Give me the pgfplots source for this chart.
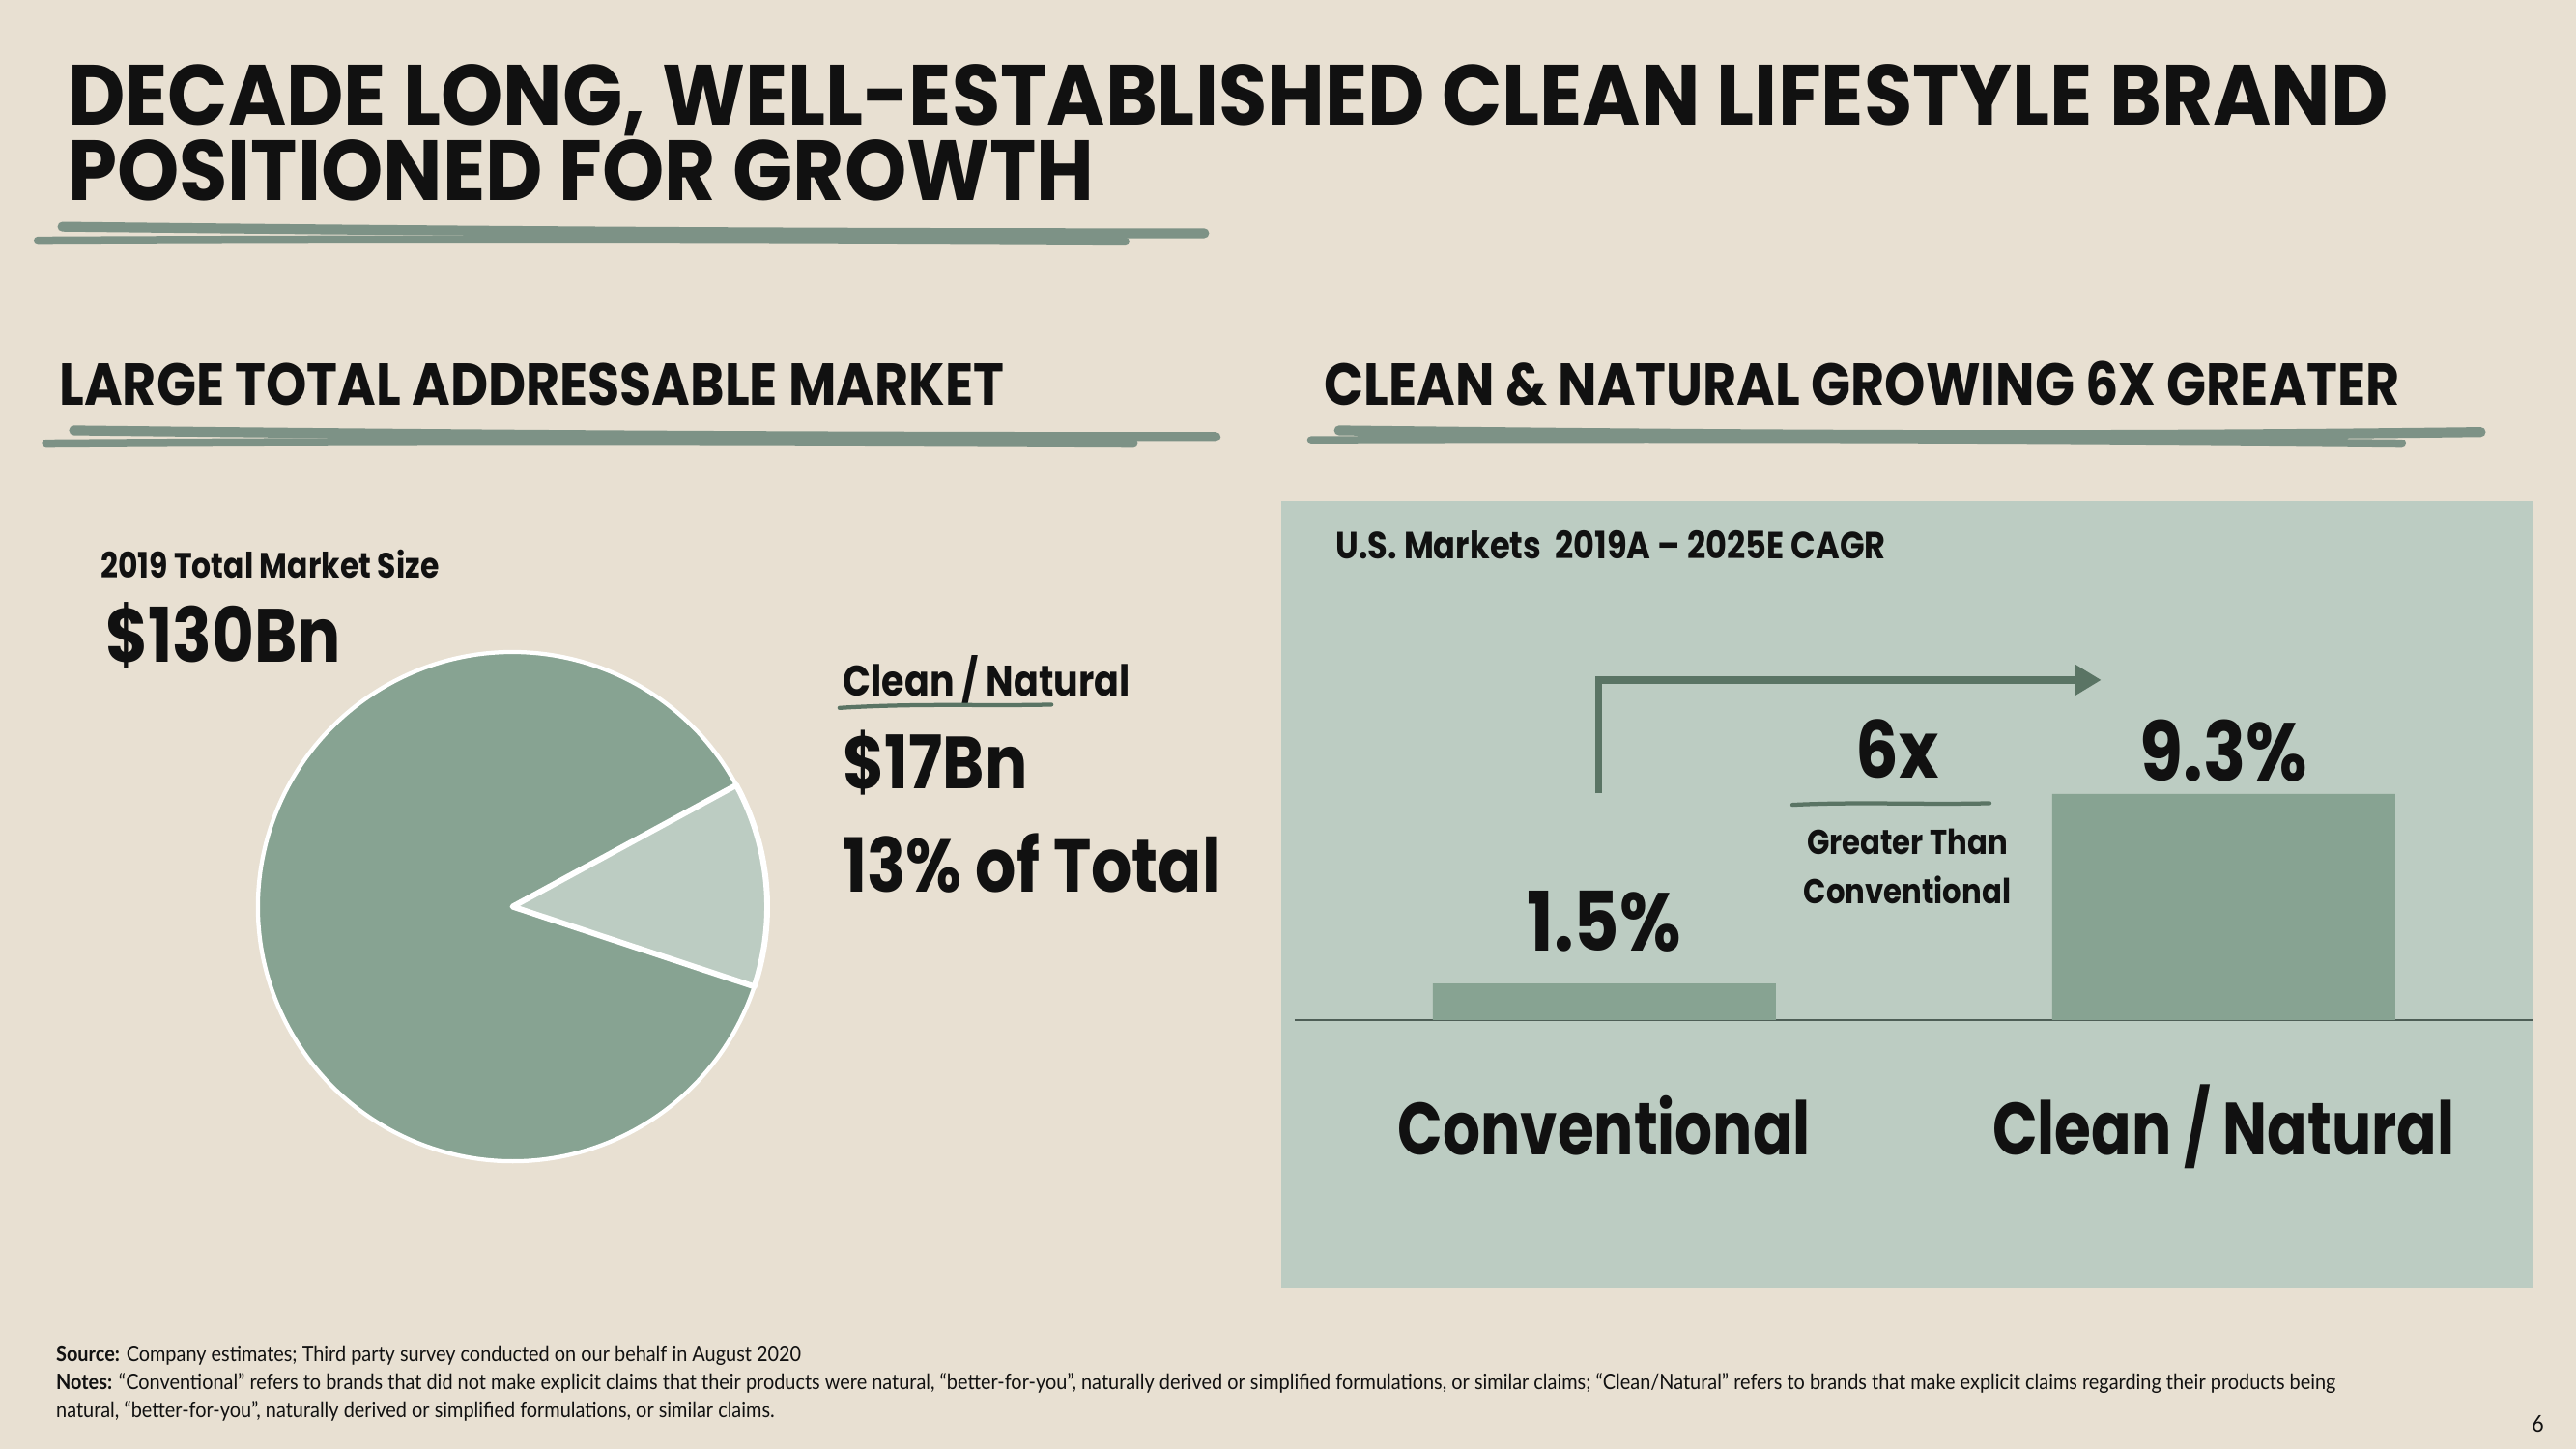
\documentclass[border=0pt]{standalone}
\usepackage{pgfplots}
\pgfplotsset{compat=1.18}
\usepackage{fontspec}
\usetikzlibrary{arrows.meta}
\setmainfont{Lato}
\newfontfamily\titlefont{Poppins}[FakeStretch=0.925]
\newfontfamily\secfont{Poppins}[FakeStretch=0.88]
\newfontfamily\hf{Poppins}[FakeStretch=0.86]
\newfontfamily\catfont{Poppins}[FakeStretch=0.8]
\newfontfamily\nf{Lato}[FakeStretch=0.9]
\definecolor{bgc}{RGB}{232,224,210}
\definecolor{panel}{RGB}{188,204,194}
\definecolor{sage}{RGB}{135,163,146}
\definecolor{brush}{RGB}{125,146,134}
\definecolor{arrowc}{RGB}{90,116,100}
\definecolor{basec}{RGB}{78,94,86}
\definecolor{ink}{RGB}{17,17,17}
\newcommand{\fs}[1]{\fontsize{#1}{#1}\selectfont}
% pie data
\def\cleanpct{13}
\def\startang{-18.3}
\pgfmathsetmacro\endang{\startang+3.6*\cleanpct}
\pgfmathsetmacro\restend{\startang+360}
\begin{document}
\begin{tikzpicture}
\begin{scope}[x=1pt,y=-1pt]
\fill[bgc] (0,0) rectangle (1568,882);
% title
\node[anchor=base west, inner sep=0, text=ink, align=left, font=\titlefont\bfseries\fontsize{52}{46}\selectfont] at (41,122) {DECADE LONG, WELL-ESTABLISHED CLEAN LIFESTYLE BRAND\\POSITIONED FOR GROWTH};
% title brush
\draw[brush, line width=6pt, line cap=round] (38,138) .. controls (300,141) and (500,142) .. (733,142);
\draw[brush, line width=5pt, line cap=round] (23,146.5) .. controls (300,145) and (500,146) .. (685,147);
% section headings
\node[anchor=base west, inner sep=0, text=ink] at (36,247) {\secfont\bfseries\fs{36}LARGE TOTAL ADDRESSABLE MARKET};
\node[anchor=base west, inner sep=0, text=ink] at (806,247) {\secfont\bfseries\fs{36}CLEAN \& NATURAL GROWING 6X GREATER};
\draw[brush, line width=6pt, line cap=round] (45,262) .. controls (300,265) and (500,266) .. (740,266);
\draw[brush, line width=5pt, line cap=round] (28,270) .. controls (300,268) and (500,269) .. (690,270);
\draw[brush, line width=6pt, line cap=round] (815,262) .. controls (1070,265) and (1270,266) .. (1510,263);
\draw[brush, line width=5pt, line cap=round] (798,268) .. controls (1070,267) and (1270,268) .. (1462,270);
% left texts
\node[anchor=base west, inner sep=0, text=ink] at (61,352) {\hf\bfseries\fs{21.5}2019 Total Market Size};
\node[anchor=base west, inner sep=0, text=ink] at (64,403) {\hf\bfseries\fs{46}\$130Bn};
\node[anchor=base west, inner sep=0, text=ink] at (513,424) {\hf\bfseries\fs{26}Clean / Natural};
\draw[arrowc, line width=2.5pt, line cap=round] (511,431) .. controls (560,428) and (600,430) .. (640,429);
\node[anchor=base west, inner sep=0, text=ink] at (513,480) {\hf\bfseries\fs{45}\$17Bn};
\node[anchor=base west, inner sep=0, text=ink] at (513,543) {\hf\bfseries\fs{45.5}13\% of Total};
% right panel
\fill[panel] (780,305) rectangle (1542,784);
\node[anchor=base west, inner sep=0, text=ink] at (813,340) {\hf\bfseries\fs{23}U.S. Markets\ \ 2019A – 2025E CAGR};
\end{scope}

% pie chart
\begin{axis}[at={(157pt,-707pt)}, anchor=south west, scale only axis,
  width=310pt, height=310pt, xmin=-1, xmax=1, ymin=-1, ymax=1,
  hide axis, clip=false]
\fill[sage, draw=white, line width=2.5pt, line join=round]
  (axis cs:0,0) -- ++(\endang:155pt) arc[start angle=\endang, end angle=\restend, radius=155pt] -- cycle;
\fill[panel, draw=white, line width=3.5pt, line join=round]
  (axis cs:0,0) -- ++(\startang:155pt) arc[start angle=\startang, end angle=\endang, radius=155pt] -- cycle;
\end{axis}

% bar chart
\begin{axis}[at={(788pt,-621pt)}, anchor=south west, scale only axis,
  width=754pt, height=177.6pt, xmin=-0.5, xmax=1.5, ymin=0, ymax=12,
  ybar, bar width=0.554,
  axis x line=bottom, axis y line=none,
  axis line style={draw=basec, line width=1.3pt, -},
  xtick={0,1}, xticklabels={Conventional, Clean / Natural},
  major tick length=0pt,
  xticklabel style={font=\catfont\bfseries\fs{45}, text=ink, anchor=base, yshift=-82pt},
  clip=false]
\addplot[fill=sage, draw=none] coordinates {(0,1.5) (1,9.3)};
\node[anchor=base, inner sep=0, text=ink, yshift=20pt] at (axis cs:0,1.5) {\hf\bfseries\fs{50}1.5\%};
\node[anchor=base, inner sep=0, text=ink, yshift=8pt] at (axis cs:1,9.3) {\hf\bfseries\fs{50}9.3\%};
\end{axis}

\begin{scope}[x=1pt,y=-1pt]
\draw[arrowc, line width=4.5pt, -{Triangle[length=16pt,width=18pt]}] (973,483) -- (973,414) -- (1279,414);
\node[anchor=base, inner sep=0, text=ink] at (1155,474) {\hf\bfseries\fs{48}6x};
\draw[arrowc, line width=2.5pt, line cap=round] (1091,490) .. controls (1130,488) and (1170,490) .. (1211,489);
\node[anchor=base, inner sep=0, text=ink] at (1161,520) {\hf\bfseries\fs{21}Greater Than};
\node[anchor=base, inner sep=0, text=ink] at (1161,550) {\hf\bfseries\fs{21}Conventional};
% footnotes
\node[anchor=base west, inner sep=0, text=ink] at (34,829) {\nf\fs{13}\textbf{Source:} Company estimates; Third party survey conducted on our behalf in August 2020};
\node[anchor=base west, inner sep=0, text=ink] at (34,846) {\nf\fs{13}\textbf{Notes:} “Conventional” refers to brands that did not make explicit claims that their products were natural, “better-for-you”, naturally derived or simplified formulations, or similar claims; “Clean/Natural” refers to brands that make explicit claims regarding their products being};
\node[anchor=base west, inner sep=0, text=ink] at (34,863) {\nf\fs{13}natural, “better-for-you”, naturally derived or simplified formulations, or similar claims.};
\node[anchor=base west, inner sep=0, text=ink] at (1541,872) {\nf\fs{14}6};
\end{scope}
\end{tikzpicture}
\end{document}
